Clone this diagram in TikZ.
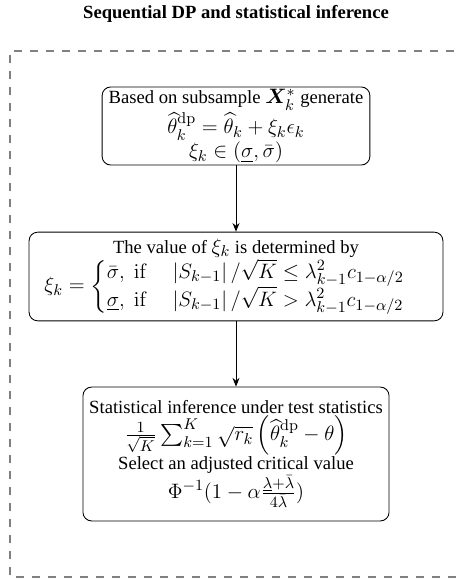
\documentclass[tikz,border=0pt]{standalone}
\usepackage{amsmath,amssymb,bm}
\usepackage[no-math]{fontspec}
\setmainfont{Liberation Serif}
\usetikzlibrary{arrows.meta}
\newcommand{\mth}[1]{{\fontsize{12.6}{13}\selectfont$#1$}}
\begin{document}
\begin{tikzpicture}[x=0.575pt,y=-0.575pt,
  box/.style={draw=black,line width=0.5pt,rounded corners=5pt,align=center,inner sep=1pt,font=\fontsize{10.7}{12.5}\selectfont},
  flow/.style={draw=black,line width=0.5pt,-{Stealth[length=5pt,width=4pt]}},
  frame/.style={draw=black!50,line width=0.6pt,dash pattern=on 4.6pt off 4.6pt}]
\useasboundingbox (0,0) rectangle (456,579);
\node[font=\bfseries\fontsize{10.7}{12}\selectfont] (title) at (236,14) {Sequential DP and statistical inference};
\draw[frame] (470,51) -- (10,51) -- (10,577) -- (470,577);
\node[box,minimum width=154pt,minimum height=44.9pt] (b1) at (236,126)
 {Based on subsample \mth{\bm{X}_k^*} generate\\
  \mth{\widehat{\theta}_k^{\mathrm{dp}}=\widehat{\theta}_k+\xi_k\epsilon_k}\\
  \mth{\xi_k\in(\underline{\sigma},\bar{\sigma})}};
\node[box,minimum width=238pt,minimum height=51pt] (b2) at (236,276.5)
 {The value of \mth{\xi_k} is determined by\\
  \mth{\xi_k=\begin{cases}\bar{\sigma},\ \mathrm{if}\quad \left|S_{k-1}\right|/\sqrt{K}\le\lambda_{k-1}^2c_{1-\alpha/2}\\
  \underline{\sigma},\ \mathrm{if}\quad \left|S_{k-1}\right|/\sqrt{K}>\lambda_{k-1}^2c_{1-\alpha/2}\end{cases}}};
\node[box,minimum width=176pt,minimum height=77pt] (b3) at (236,454)
 {Statistical inference under test statistics\\
  \mth{\frac{1}{\sqrt{K}}\sum_{k=1}^{K}\sqrt{r_k}\left(\widehat{\theta}_k^{\mathrm{dp}}-\theta\right)}\\
  Select an adjusted critical value\\
  \mth{\Phi^{-1}(1-\alpha\frac{\underline{\lambda}+\bar{\lambda}}{4\bar{\lambda}})}};
\draw[flow] (b1) -- (b2);
\draw[flow] (b2) -- (b3);
\end{tikzpicture}
\end{document}
